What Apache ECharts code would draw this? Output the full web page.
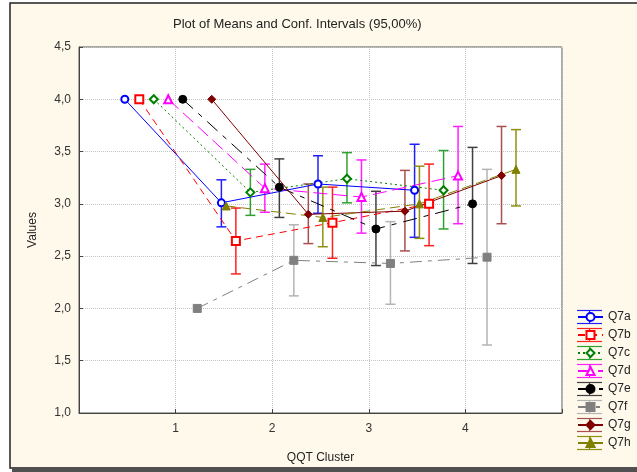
<!DOCTYPE html>
<html>
<head>
<meta charset="utf-8">
<script src="https://cdn.jsdelivr.net/npm/echarts@6/dist/echarts.min.js"></script>
<style>html,body{margin:0;padding:0;background:#fff}#c{width:637px;height:472px}</style>
</head>
<body>
<div id="c"></div>
<script>
// ---- data ----
const seriesNames = ['Q7a','Q7b','Q7c','Q7d','Q7e','Q7f','Q7g','Q7h'];
const clusterIndex = [0, 1, 2, 3];           // four groups along the axis
const xTickLabels = ['1','2','3','4'];
const yTickLabels = ['1,0','1,5','2,0','2,5','3,0','3,5','4,0','4,5'];

const meanQ7a = [4.00, 3.01, 3.19, 3.13];
const meanQ7b = [4.00, 2.645, 2.82, 3.00];
const meanQ7c = [4.00, 3.11, 3.24, 3.13];
const meanQ7d = [4.00, 3.15, 3.065, 3.27];
const meanQ7e = [4.00, 3.16, 2.76, 3.00];
const meanQ7f = [2.00, 2.46, 2.43, 2.49];
const meanQ7g = [4.00, 2.90, 2.93, 3.27];
const meanQ7h = [2.98, 2.87, 3.00, 3.33];

const lowQ7a = [null, 2.78, 2.91, 2.68];  const highQ7a = [null, 3.23, 3.46, 3.57];
const lowQ7b = [null, 2.33, 2.48, 2.60];  const highQ7b = [null, 2.96, 3.16, 3.38];
const lowQ7c = [null, 2.89, 3.01, 2.76];  const highQ7c = [null, 3.33, 3.49, 3.51];
const lowQ7d = [null, 2.92, 2.72, 2.81];  const highQ7d = [null, 3.38, 3.42, 3.74];
const lowQ7e = [null, 2.87, 2.41, 2.43];  const highQ7e = [null, 3.43, 3.12, 3.54];
const lowQ7f = [null, 2.12, 2.04, 1.65];  const highQ7f = [null, 2.80, 2.83, 3.33];
const lowQ7g = [null, 2.62, 2.55, 2.81];  const highQ7g = [null, 3.19, 3.32, 3.74];
const lowQ7h = [null, 2.59, 2.67, 2.98];  const highQ7h = [null, 3.16, 3.36, 3.71];

const means = [meanQ7a, meanQ7b, meanQ7c, meanQ7d, meanQ7e, meanQ7f, meanQ7g, meanQ7h];
const lows  = [lowQ7a, lowQ7b, lowQ7c, lowQ7d, lowQ7e, lowQ7f, lowQ7g, lowQ7h];
const highs = [highQ7a, highQ7b, highQ7c, highQ7d, highQ7e, highQ7f, highQ7g, highQ7h];

// ---- styling ----
const lineColors = ['#0000ff','#ff0000','#008000','#ff00ff','#000000','#808080','#800000','#808000'];
const barColors  = ['#2020ff','#ff2020','#30a030','#ff20ff','#404040','#b4b4b4','#a85050','#909010'];
const symbols = ['emptyCircle','emptyRect','emptyDiamond','emptyTriangle','circle','rect','diamond','triangle'];
const symbolSizes = [7,8,8,8,8,8,8,8];
const lineTypes = ['solid',[7,5],[2,3],[14,6],[14,7,5,7],[12,6,4,6],'solid',[10,5]];
const groupStart = 0.474, dodge = 0.15;   // layout of the dodged series within each group

const FONT = '"Liberation Sans", Arial, sans-serif';

// legend layout (decoration: error-bar caps drawn around each legend icon)
const legendLeft = 572, legendTop = 305, legendPad = 5, legendRowH = 14, legendGap = 4, legendIconW = 25;

const series = [];
seriesNames.forEach((name, i) => {
  const xs = clusterIndex.map(c => c + groupStart + dodge * i);
  const errData = [];
  clusterIndex.forEach((c, k) => {
    if (lows[i][k] != null) errData.push([xs[k], lows[i][k], highs[i][k]]);
  });
  series.push({
    name: name + ' CI',
    type: 'custom',
    z: 2,
    silent: true,
    data: errData,
    encode: { x: 0, y: [1, 2] },
    renderItem: function (params, api) {
      const x = api.value(0);
      const pLo = api.coord([x, api.value(1)]);
      const pHi = api.coord([x, api.value(2)]);
      const w = 5;
      const st = { stroke: barColors[i], lineWidth: 1.5 };
      return {
        type: 'group',
        children: [
          { type: 'line', shape: { x1: pLo[0], y1: pLo[1], x2: pHi[0], y2: pHi[1] }, style: st },
          { type: 'line', shape: { x1: pHi[0] - w, y1: pHi[1], x2: pHi[0] + w, y2: pHi[1] }, style: st },
          { type: 'line', shape: { x1: pLo[0] - w, y1: pLo[1], x2: pLo[0] + w, y2: pLo[1] }, style: st }
        ]
      };
    }
  });
  series.push({
    name: name,
    type: 'line',
    z: 3,
    data: xs.map((x, k) => [x, means[i][k]]),
    symbol: symbols[i],
    symbolSize: symbolSizes[i],
    showAllSymbol: true,
    lineStyle: { color: lineColors[i], width: 1, type: lineTypes[i] },
    itemStyle: { color: lineColors[i], borderColor: lineColors[i], borderWidth: 1 },
    emphasis: { disabled: true },
    animation: false
  });
});

// caps around legend icons
const legendCaps = [];
const capX0 = legendLeft + legendPad, capX1 = capX0 + legendIconW;
seriesNames.forEach((name, i) => {
  const cy = legendTop + legendPad + legendRowH / 2 + (legendRowH + legendGap) * i;
  const st = { stroke: barColors[i], lineWidth: 1.2 };
  legendCaps.push(
    { type: 'line', silent: true, z: 1, shape: { x1: capX0, y1: cy - 6.5, x2: capX1, y2: cy - 6.5 }, style: st },
    { type: 'line', silent: true, z: 1, shape: { x1: capX0, y1: cy + 6.5, x2: capX1, y2: cy + 6.5 }, style: st },
    { type: 'line', silent: true, z: 1, shape: { x1: (capX0 + capX1) / 2, y1: cy - 6.5, x2: (capX0 + capX1) / 2, y2: cy + 6.5 }, style: st }
  );
});

const chart = echarts.init(document.getElementById('c'), null, { renderer: 'canvas' });
chart.setOption({
  animation: false,
  backgroundColor: '#ffffff',
  textStyle: { fontFamily: FONT },
  graphic: [
    { type: 'rect', z: -100, silent: true,
      shape: { x: 10, y: 3, width: 640, height: 465 },
      style: { fill: '#fff9ec', stroke: '#222', lineWidth: 1.5 } },
    { type: 'rect', z: -99, silent: true,
      shape: { x: 12, y: 467, width: 640, height: 6 },
      style: { fill: '#505050' } }
  ].concat(legendCaps),
  title: {
    text: 'Plot of Means and Conf. Intervals (95,00%)',
    left: 168, top: 13,
    textStyle: { fontFamily: FONT, fontSize: 13, fontWeight: 'normal', color: '#222' }
  },
  legend: {
    data: seriesNames,
    orient: 'vertical',
    z: 10,
    left: legendLeft, top: legendTop, padding: legendPad,
    itemWidth: legendIconW, itemHeight: 10, itemGap: legendGap,
    textStyle: { fontFamily: FONT, fontSize: 12, color: '#222', lineHeight: legendRowH },
    selectedMode: false
  },
  grid: {
    left: 79, right: 75, top: 47, bottom: 59,
    show: true, backgroundColor: '#ffffff', borderColor: '#555', borderWidth: 1
  },
  xAxis: {
    type: 'value', min: 0, max: 5, interval: 1,
    name: 'QQT Cluster', nameLocation: 'middle', nameGap: 39,
    nameTextStyle: { fontFamily: FONT, fontSize: 12, color: '#222' },
    axisLine: { lineStyle: { color: '#444' } },
    axisTick: { inside: true, length: 4, lineStyle: { color: '#444' } },
    axisLabel: {
      fontFamily: FONT, fontSize: 12, color: '#333', margin: 10,
      formatter: v => (v >= 1 && v <= 4) ? xTickLabels[v - 1] : ''
    },
    splitLine: { show: true, lineStyle: { color: '#c4c4c4', type: 'dotted' } }
  },
  yAxis: {
    type: 'value', min: 1, max: 4.5, interval: 0.5,
    name: 'Values', nameLocation: 'middle', nameGap: 40, nameRotate: 90,
    nameTextStyle: { fontFamily: FONT, fontSize: 12, color: '#222' },
    axisLine: { show: true, lineStyle: { color: '#444' } },
    axisTick: { show: true, inside: true, length: 4, lineStyle: { color: '#444' } },
    axisLabel: {
      fontFamily: FONT, fontSize: 12, color: '#333', margin: 8,
      formatter: v => yTickLabels[Math.round((v - 1) / 0.5)]
    },
    splitLine: { show: true, lineStyle: { color: '#c4c4c4', type: 'dotted' } }
  },
  series: series
});
</script>
</body>
</html>
